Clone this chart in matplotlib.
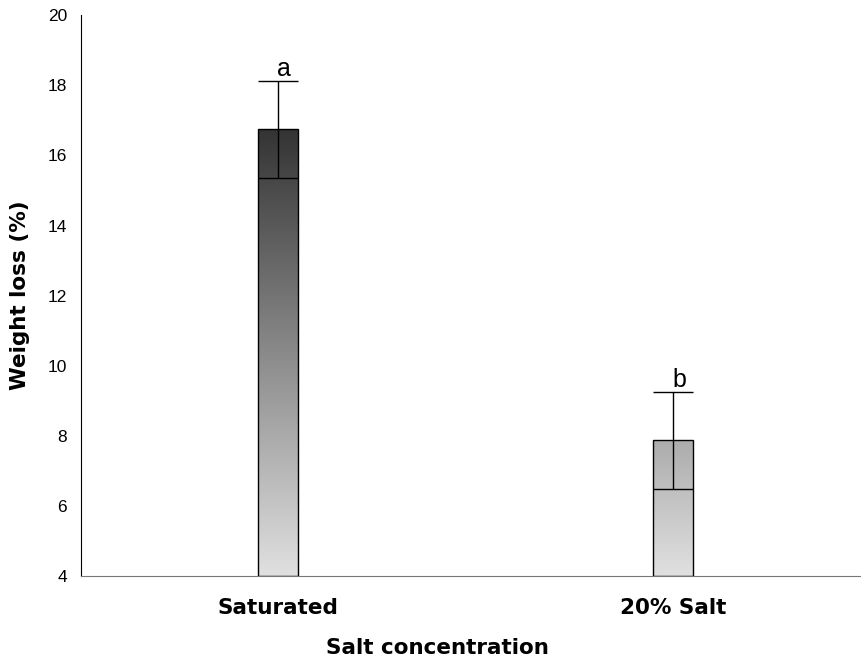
import numpy as np
import matplotlib.pyplot as plt
from matplotlib.colors import LinearSegmentedColormap
from matplotlib.patches import Rectangle

plt.rcParams.update({
    "font.family": ["Liberation Sans", "DejaVu Sans"],
    "font.size": 12,
})

categories = ["Saturated", "20% Salt"]
weight_loss = [16.74, 7.88]
errors = [1.38, 1.38]
letters = ["a", "b"]

YMIN, YMAX = 4, 20
BAR_W = 0.101
BOLD = {"family": "DejaVu Sans", "weight": "bold", "size": 15.5}

fig = plt.figure(figsize=(8.61, 6.57), dpi=100)
ax = fig.add_axes([0.094, 0.123, 0.905, 0.854])

x = np.arange(len(categories))

# grey ramp running up the value axis, shared by both bars
cmap = LinearSegmentedColormap.from_list("ramp", ["#e0e0e0", "#343434"])
ramp = np.linspace(0, 1, 256).reshape(-1, 1)
top_val = max(weight_loss)

for xi, val in zip(x, weight_loss):
    rect = Rectangle((xi - BAR_W / 2, YMIN), BAR_W, val - YMIN,
                     facecolor="none", edgecolor="black", linewidth=1.0, zorder=3)
    ax.add_patch(rect)
    im = ax.imshow(ramp, cmap=cmap, aspect="auto", origin="lower",
                   extent=(xi - BAR_W / 2, xi + BAR_W / 2, YMIN, top_val),
                   zorder=2, interpolation="bilinear")
    im.set_clip_path(rect)

ax.errorbar(x, weight_loss, yerr=errors, fmt="none", ecolor="black",
            elinewidth=1.0, capsize=14.4, capthick=1.0, zorder=4)

# significance letters just above the caps
for xi, val, err, lab in zip(x, weight_loss, errors, letters):
    ax.text(xi + 0.015, val + err, lab, ha="center", va="bottom",
            fontsize=18)

ax.set_xlim(-0.499, 1.473)
ax.set_ylim(YMIN, YMAX)
ax.set_yticks(np.arange(YMIN, YMAX + 1, 2))
ax.set_xticks(x)
ax.set_xticklabels(categories, fontdict=BOLD)
ax.tick_params(axis="both", length=0)
ax.tick_params(axis="y", pad=10, labelsize=12.5)
ax.tick_params(axis="x", pad=16)

ax.spines["top"].set_visible(False)
ax.spines["right"].set_visible(False)
ax.spines["bottom"].set_color("#777777")

ax.set_xlabel("Salt concentration", fontdict=BOLD)
ax.xaxis.set_label_coords(0.458, -0.11)
ax.set_ylabel("Weight loss (%)", fontdict=BOLD)
ax.yaxis.set_label_coords(-0.066, 0.5)

fig.savefig("out.png", dpi=100)
